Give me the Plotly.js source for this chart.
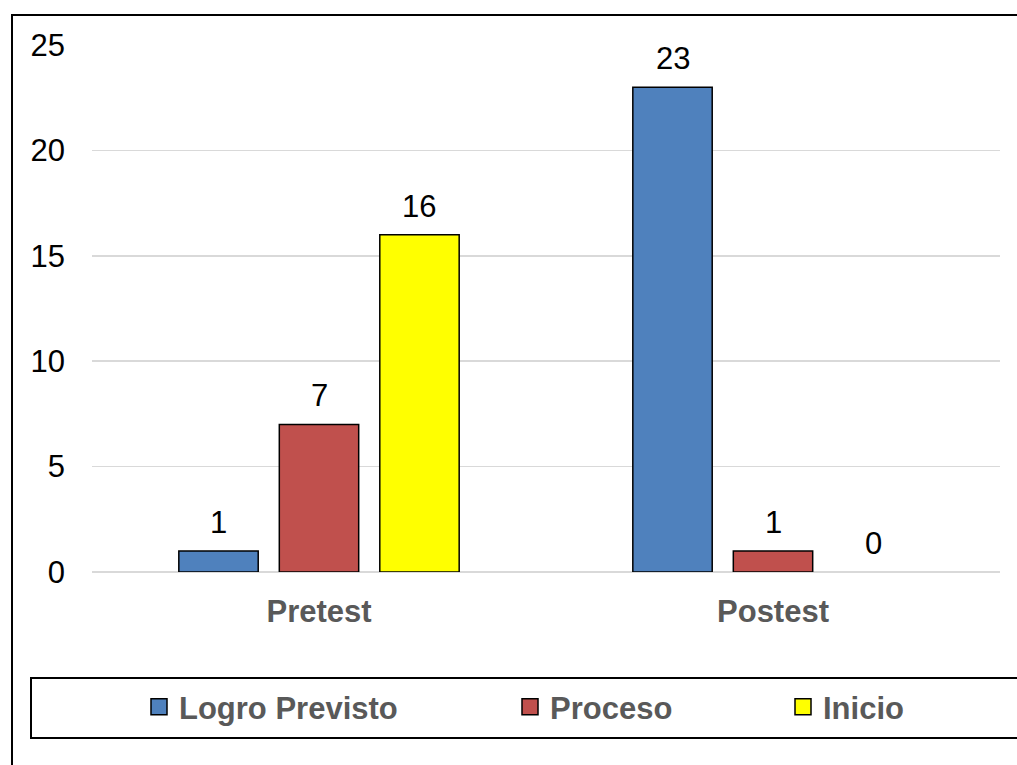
<!DOCTYPE html>
<html>
<head>
<meta charset="utf-8">
<script src="https://cdn.plot.ly/plotly-3.0.1.min.js"></script>
<style>html,body{margin:0;padding:0;background:#fff}#chart{width:1017px;height:765px}</style>
</head>
<body>
<div id="chart"></div>
<script>
const categories = ["Pretest", "Postest"];
const seriesNames = ["Logro Previsto", "Proceso", "Inicio"];
const logroPrevisto = [1, 23];
const proceso = [7, 1];
const inicio = [16, 0];
const yTicks = [0, 5, 10, 15, 20, 25];

const colors = ["#4F81BD", "#C0504D", "#FFFF00"];
const seriesValues = [logroPrevisto, proceso, inicio];
const FONT = "Liberation Sans, Arial, sans-serif";

const W = 1017, H = 765;
const mL = 92, mR = 17, mT = 45, mB = 193;
const plotW = W - mL - mR, plotH = H - mT - mB;
const px2x = p => (p - mL) / plotW;
const py2y = p => (H - mB - p) / plotH;

const legendIds = ["legend", "legend2", "legend3"];
const traces = [];
seriesValues.forEach((vals, i) => {
  traces.push({
    type: "bar",
    name: seriesNames[i],
    x: categories,
    y: vals,
    marker: {color: colors[i], line: {color: "#000000", width: vals.map(v => v === 0 ? 0 : 1.5)}},
    showlegend: false,
    hoverinfo: "skip"
  });
});
// legend entries (square swatches like the original)
seriesValues.forEach((vals, i) => {
  traces.push({
    type: "scatter", mode: "markers",
    name: seriesNames[i],
    x: [null], y: [null],
    marker: {symbol: "square", size: 16, color: colors[i], line: {color: "#000000", width: 1.5}},
    showlegend: true,
    legend: legendIds[i],
    hoverinfo: "skip"
  });
});

// slot offsets for grouped bars (pixel shift of each series within a category)
const slot = plotW / categories.length * (1 - 0.336) / seriesValues.length;
const annotations = [];
seriesValues.forEach((vals, i) => {
  vals.forEach((v, j) => {
    annotations.push({
      x: categories[j], y: v, xref: "x", yref: "y",
      text: String(v), showarrow: false,
      xshift: (i - 1) * slot, yshift: 9,
      yanchor: "bottom", xanchor: "center",
      font: {family: FONT, size: 31, color: "#000000"}
    });
  });
});

const legendCenters = [159, 530, 803];
const legendCommon = (cx) => ({
  x: px2x(cx - 20), xanchor: "left",
  y: py2y(707), yanchor: "middle",
  orientation: "h", bgcolor: "rgba(0,0,0,0)", borderwidth: 0,
  font: {family: FONT, size: 31, color: "#595959", weight: "bold"},
  itemclick: false, itemdoubleclick: false
});

const layout = {
  width: W, height: H,
  margin: {l: mL, r: mR, t: mT, b: mB, pad: 0},
  paper_bgcolor: "#ffffff", plot_bgcolor: "#ffffff",
  barmode: "group", bargap: 0.336, bargroupgap: 0.21,
  font: {family: FONT, size: 31, color: "#000000"},
  xaxis: {
    type: "category", showgrid: false, zeroline: false, showline: false,
    ticks: "", ticklabelstandoff: 18,
    tickfont: {family: FONT, size: 31, color: "#595959", weight: "bold"}
  },
  yaxis: {
    range: [0, 25], tickvals: yTicks, ticktext: yTicks.map(String),
    showgrid: true, gridcolor: "#d9d9d9", gridwidth: 1.5,
    zeroline: true, zerolinecolor: "#d9d9d9", zerolinewidth: 1.5,
    showline: false, ticks: "", ticklabelstandoff: 26,
    tickfont: {family: FONT, size: 31, color: "#000000"}
  },
  legend: legendCommon(legendCenters[0]),
  legend2: legendCommon(legendCenters[1]),
  legend3: legendCommon(legendCenters[2]),
  annotations: annotations,
  shapes: [
    {type: "rect", xref: "paper", yref: "paper",
     x0: px2x(12), x1: px2x(1040), y0: py2y(800), y1: py2y(15),
     line: {color: "#000000", width: 2}, fillcolor: "rgba(0,0,0,0)", layer: "above"},
    {type: "rect", xref: "paper", yref: "paper",
     x0: px2x(31), x1: px2x(1040), y0: py2y(738), y1: py2y(678),
     line: {color: "#000000", width: 2}, fillcolor: "rgba(0,0,0,0)", layer: "above"}
  ]
};

Plotly.newPlot("chart", traces, layout, {displayModeBar: false, staticPlot: true});
</script>
</body>
</html>
